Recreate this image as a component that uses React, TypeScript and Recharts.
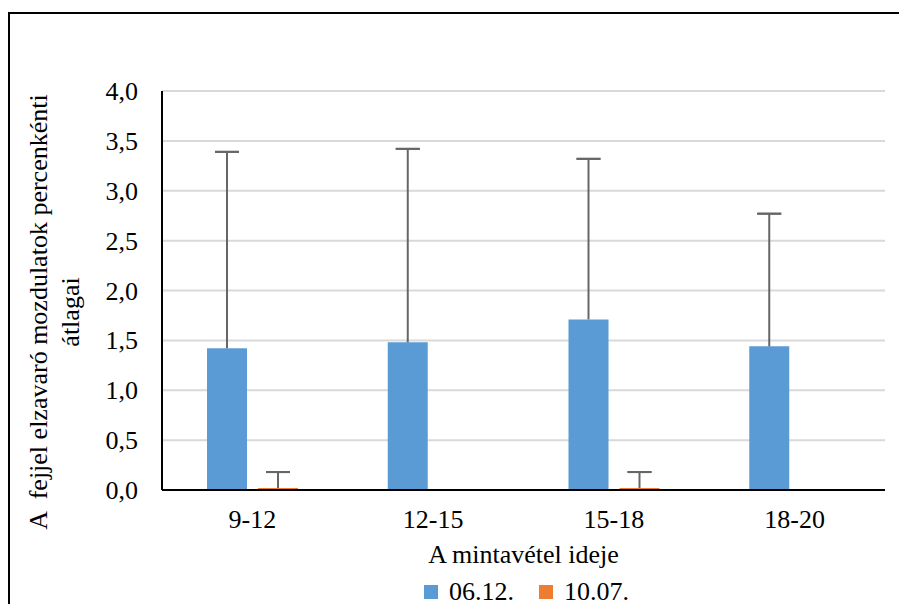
import React from 'react';
import { BarChart, Bar, XAxis, YAxis, CartesianGrid, ErrorBar, Legend } from 'recharts';

const categories = ['9-12', '12-15', '15-18', '18-20'];
const series0612 = [1.42, 1.48, 1.71, 1.44];
const series1007 = [0.02, 0, 0.02, 0];
const err0612 = [1.97, 1.94, 1.61, 1.33];
const err1007 = [0.16, 0, 0.16, 0];
const yTicks = [0, 0.5, 1, 1.5, 2, 2.5, 3, 3.5, 4];

const seriesNames = ['06.12.', '10.07.'];
const colors = ['#5B9BD5', '#ED7D31'];

const FONT = "'Liberation Serif', 'DejaVu Serif', 'Noto Serif', serif";

const data = categories.map((c, i) => ({
  cat: c,
  a: series0612[i],
  b: series1007[i],
  aLine: [0, err0612[i]],
  aCap: [-err0612[i], err0612[i]],
  bLine: [0, err1007[i]],
  bCap: [-err1007[i], err1007[i]],
}));

const XTick = (props: any) => {
  const { x, y, payload } = props;
  return (
    <text x={x} y={y + 38} textAnchor="middle" fontFamily="Liberation Serif" fontSize={26} fill="#000">
      {payload.value}
    </text>
  );
};

const YTick = (props: any) => {
  const { x, y, payload } = props;
  return (
    <text x={x} y={y} dy="0.35em" textAnchor="end" fontFamily="Liberation Serif" fontSize={26} fill="#000">
      {Number(payload.value).toFixed(1).replace('.', ',')}
    </text>
  );
};

const YLabel = () => (
  <g>
    <text
      transform="translate(37,298) rotate(-90)"
      textAnchor="middle"
      fill="#000"
      fontFamily="Liberation Serif"
      fontSize={26}
      style={{ whiteSpace: 'pre' }}
    >
      {'A  fejjel elzavaró mozdulatok percenkénti'}
    </text>
    <text
      transform="translate(69,298) rotate(-90)"
      textAnchor="middle"
      fill="#000"
      fontFamily="Liberation Serif"
      fontSize={26}
    >
      átlagai
    </text>
  </g>
);

const XLabel = (props: any) => {
  const vb = props.viewBox || {};
  return (
    <text
      x={vb.x + vb.width / 2}
      y={vb.y + 73}
      textAnchor="middle"
      fill="#000"
      fontFamily="Liberation Serif"
      fontSize={26}
    >
      A mintavétel ideje
    </text>
  );
};

const LegendContent = (props: any) => {
  const payload = props.payload || [];
  return (
    <div
      style={{
        display: 'flex',
        justifyContent: 'center',
        alignItems: 'center',
        fontFamily: FONT,
        fontSize: 26,
        color: '#000',
        lineHeight: '30px',
      }}
    >
      {payload.map((p: any, i: number) => (
        <div key={i} style={{ display: 'flex', alignItems: 'center', marginLeft: i === 0 ? 0 : 25 }}>
          <span style={{ display: 'inline-block', width: 14, height: 14, background: p.color, marginRight: 11 }} />
          <span>{p.value}</span>
        </div>
      ))}
    </div>
  );
};

export default function App() {
  return (
    <div
      style={{
        position: 'relative',
        top: 4,
        width: 899,
        height: 596,
        borderTop: '2px solid #000',
        borderLeft: '2px solid #000',
        boxSizing: 'border-box',
        background: '#fff',
      }}
    >
      <BarChart
        width={897}
        height={594}
        data={data}
        margin={{ top: 77, right: 22, left: 0, bottom: 38 }}
        barSize={40}
        barGap={11}
      >
        <CartesianGrid horizontal vertical={false} stroke="#D9D9D9" strokeWidth={2} />
        <XAxis
          dataKey="cat"
          height={80}
          axisLine={{ stroke: '#000', strokeWidth: 2 }}
          tickLine={false}
          tickSize={0}
          tickMargin={0}
          tick={<XTick />}
          interval={0}
          label={<XLabel />}
        />
        <YAxis
          width={152}
          domain={[0, 4]}
          ticks={yTicks}
          axisLine={{ stroke: '#000', strokeWidth: 2 }}
          tickLine={false}
          tickSize={0}
          tickMargin={24}
          tick={<YTick />}
          interval={0}
          label={<YLabel />}
        />
        <Legend
          layout="horizontal"
          verticalAlign="middle"
          align="center"
          wrapperStyle={{ top: 563, left: 155, width: 723, bottom: 'auto' }}
          content={<LegendContent />}
        />
        <Bar dataKey="a" name={seriesNames[0]} fill={colors[0]} isAnimationActive={false}>
          <ErrorBar dataKey="aLine" width={0} stroke="#666666" strokeWidth={2} isAnimationActive={false} />
          <ErrorBar dataKey="aCap" width={12} stroke="#666666" strokeWidth={2} isAnimationActive={false} />
        </Bar>
        <Bar dataKey="b" name={seriesNames[1]} fill={colors[1]} isAnimationActive={false}>
          <ErrorBar dataKey="bLine" width={0} stroke="#666666" strokeWidth={2} isAnimationActive={false} />
          <ErrorBar dataKey="bCap" width={12} stroke="#666666" strokeWidth={2} isAnimationActive={false} />
        </Bar>
      </BarChart>
    </div>
  );
}
